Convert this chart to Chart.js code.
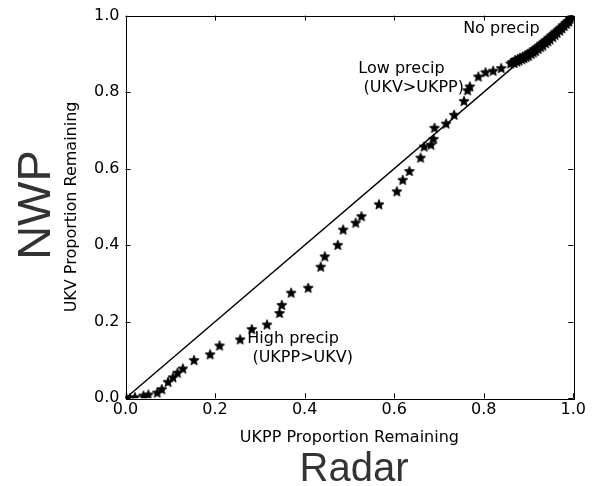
<!DOCTYPE html>
<html>
<head>
<meta charset="utf-8">
<script src="https://cdn.jsdelivr.net/npm/chart.js@4"></script>
<style>
  body { margin: 0; background: #fff; }
  canvas { display: block; }
</style>
</head>
<body>
<canvas id="chart" width="596" height="486"></canvas>
<script>
// values
const ukppRemaining = [
    0.002, 0.010, 0.021, 0.040, 0.051, 0.071, 0.081, 0.095, 0.106, 0.116,
    0.128, 0.153, 0.189, 0.210, 0.256, 0.282, 0.316, 0.344, 0.349, 0.370,
    0.408, 0.436, 0.445, 0.474, 0.486, 0.514, 0.527, 0.566, 0.606, 0.619,
    0.634, 0.659, 0.667, 0.682, 0.688, 0.690, 0.716, 0.734, 0.756, 0.764,
    0.769, 0.788, 0.804, 0.821, 0.839, 0.860,
    // dense "no precip" band, upper edge
    0.864, 0.870, 0.876, 0.881, 0.887, 0.892, 0.897, 0.903, 0.908, 0.913,
    0.919, 0.924, 0.929, 0.935, 0.940, 0.945, 0.951, 0.956, 0.961, 0.967,
    0.972, 0.977, 0.983, 0.988, 0.993, 0.997, 1.000,
    // lower edge
    0.868, 0.874, 0.879, 0.885, 0.890, 0.895, 0.900, 0.906, 0.911, 0.916,
    0.922, 0.927, 0.932, 0.938, 0.943, 0.948, 0.954, 0.959, 0.964, 0.970,
    0.975, 0.980, 0.985, 0.990, 0.995
];
const ukvRemaining = [
    0.001, 0.000, 0.003, 0.007, 0.010, 0.015, 0.024, 0.043, 0.055, 0.067,
    0.078, 0.100, 0.115, 0.138, 0.154, 0.181, 0.193, 0.223, 0.244, 0.276,
    0.289, 0.344, 0.371, 0.401, 0.441, 0.459, 0.476, 0.507, 0.541, 0.571,
    0.594, 0.629, 0.658, 0.663, 0.678, 0.707, 0.718, 0.741, 0.777, 0.805,
    0.815, 0.841, 0.852, 0.856, 0.863, 0.875,
    0.879, 0.884, 0.887, 0.890, 0.893, 0.896, 0.899, 0.904, 0.908, 0.912,
    0.917, 0.922, 0.927, 0.932, 0.937, 0.942, 0.948, 0.953, 0.958, 0.964,
    0.969, 0.975, 0.981, 0.986, 0.992, 0.996, 0.999,
    0.876, 0.880, 0.883, 0.886, 0.889, 0.892, 0.895, 0.900, 0.904, 0.908,
    0.913, 0.918, 0.922, 0.928, 0.933, 0.938, 0.944, 0.950, 0.955, 0.961,
    0.967, 0.973, 0.979, 0.985, 0.991
];
const xTicks = [0.0, 0.2, 0.4, 0.6, 0.8, 1.0];
const yTicks = [0.0, 0.2, 0.4, 0.6, 0.8, 1.0];
const notes = [
    { lines: ['No precip'], x: 0.754, y: 0.966 },
    { lines: ['Low precip', ' (UKV>UKPP)'], x: 0.520, y: 0.861 },
    { lines: ['High precip', ' (UKPP>UKV)'], x: 0.272, y: 0.156 }
];

function makeStar(r) {
    const c = document.createElement('canvas');
    const s = Math.ceil(r * 2 + 3);
    c.width = c.height = s;
    const g = c.getContext('2d');
    g.translate(s / 2, s / 2 + 0.5);
    g.beginPath();
    for (let i = 0; i < 10; i++) {
        const rad = i % 2 ? r * 0.45 : r;
        const a = -Math.PI / 2 + i * Math.PI / 5;
        g.lineTo(rad * Math.cos(a), rad * Math.sin(a));
    }
    g.closePath();
    g.fillStyle = '#000';
    g.fill();
    g.strokeStyle = '#000';
    g.lineWidth = 0.8;
    g.stroke();
    return c;
}

const font = 'DejaVu Sans';

const extras = {
    id: 'extras',
    afterDraw(chart) {
        const ctx = chart.ctx;
        const a = chart.chartArea;
        const sx = chart.scales.x, sy = chart.scales.y;
        ctx.save();
        // frame
        ctx.strokeStyle = '#000';
        ctx.lineWidth = 1;
        ctx.strokeRect(Math.round(a.left) + 0.5, Math.round(a.top) + 0.5,
            Math.round(a.right - a.left), Math.round(a.bottom - a.top));
        // inward ticks on all four sides
        ctx.beginPath();
        xTicks.forEach(v => {
            const px = Math.round(sx.getPixelForValue(v)) + 0.5;
            ctx.moveTo(px, a.bottom); ctx.lineTo(px, a.bottom - 5);
            ctx.moveTo(px, a.top); ctx.lineTo(px, a.top + 5);
        });
        yTicks.forEach(v => {
            const py = Math.round(sy.getPixelForValue(v)) + 0.5;
            ctx.moveTo(a.left, py); ctx.lineTo(a.left + 5, py);
            ctx.moveTo(a.right, py); ctx.lineTo(a.right - 5, py);
        });
        ctx.stroke();

        // annotations
        ctx.fillStyle = '#000';
        ctx.font = '16px "' + font + '"';
        ctx.textAlign = 'left';
        ctx.textBaseline = 'middle';
        notes.forEach(n => {
            const px = sx.getPixelForValue(n.x);
            const py = sy.getPixelForValue(n.y);
            n.lines.forEach((t, i) => ctx.fillText(t, px, py + i * 19));
        });

        // axis titles
        ctx.textAlign = 'center';
        ctx.fillText('UKPP Proportion Remaining', (a.left + a.right) / 2, 438);
        ctx.save();
        ctx.translate(72, (a.top + a.bottom) / 2);
        ctx.rotate(-Math.PI / 2);
        ctx.fillText('UKV Proportion Remaining', 0, 0);
        ctx.restore();

        // big labels
        ctx.fillStyle = '#333';
        ctx.font = '47px "Liberation Sans"';
        ctx.save();
        ctx.translate(37, 205);
        ctx.rotate(-Math.PI / 2);
        ctx.textBaseline = 'middle';
        ctx.fillText('NWP', 0, 0);
        ctx.restore();
        ctx.font = '40px "Liberation Sans"';
        ctx.textBaseline = 'alphabetic';
        ctx.fillText('Radar', 354, 481);
        ctx.restore();
    }
};

const points = ukppRemaining.map((x, i) => ({ x: x, y: ukvRemaining[i] }));

new Chart(document.getElementById('chart').getContext('2d'), {
    type: 'scatter',
    data: {
        datasets: [{
            type: 'line',
            data: [{ x: 0, y: 0 }, { x: 1, y: 1 }],
            borderColor: '#000',
            borderWidth: 1.4,
            pointRadius: 0,
            fill: false
        }, {
            data: points,
            pointStyle: makeStar(5.3),
            pointRadius: 5
        }]
    },
    options: {
        responsive: false,
        animation: false,
        layout: { padding: { left: 85.5, right: 22.7, top: 14.3, bottom: 57.7 } },
        plugins: { legend: { display: false }, tooltip: { enabled: false } },
        scales: {
            x: {
                type: 'linear', min: 0, max: 1,
                afterFit: s => { s.height = 30; },
                afterBuildTicks: s => { s.ticks = xTicks.map(v => ({ value: v })); },
                ticks: {
                    callback: v => v.toFixed(1),
                    font: { family: font, size: 16 },
                    color: '#000', padding: 2, maxRotation: 0
                },
                grid: { display: false, drawTicks: false },
                border: { display: false }
            },
            y: {
                type: 'linear', min: 0, max: 1,
                afterFit: s => { s.width = 40; },
                afterBuildTicks: s => { s.ticks = yTicks.map(v => ({ value: v })); },
                ticks: {
                    callback: v => v.toFixed(1),
                    font: { family: font, size: 16 },
                    color: '#000', padding: 6
                },
                grid: { display: false, drawTicks: false },
                border: { display: false }
            }
        }
    },
    plugins: [extras]
});
</script>
</body>
</html>
